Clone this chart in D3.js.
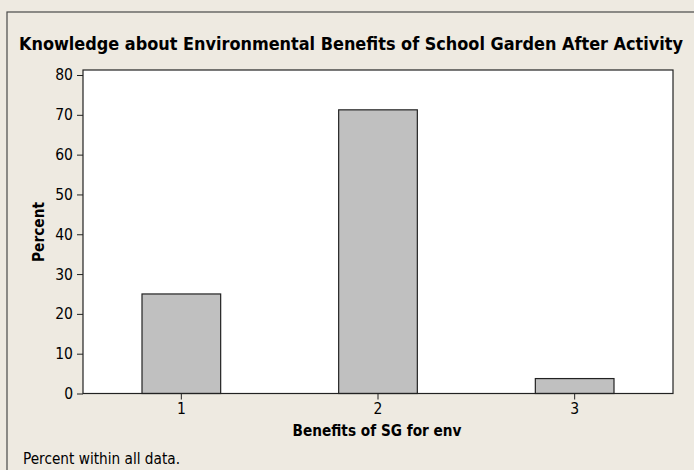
<!DOCTYPE html>
<html>
<head>
<meta charset="utf-8">
<script src="https://cdn.jsdelivr.net/npm/d3@7"></script>
<style>
  html, body { margin: 0; padding: 0; background: #EEEAE1; }
  svg { display: block; }
  text { font-family: "DejaVu Sans Condensed", "DejaVu Sans", sans-serif; fill: #000; }
</style>
</head>
<body>
<svg id="chart" width="694" height="470"></svg>
<script>
const categories = ["1", "2", "3"];
const percents = [25, 71.25, 3.75];
const yTicks = [0, 10, 20, 30, 40, 50, 60, 70, 80];
const titleText = "Knowledge about Environmental Benefits of School Garden After Activity";
const xLabel = "Benefits of SG for env";
const yLabel = "Percent";
const footnote = "Percent within all data.";

const svg = d3.select("#chart");
const W = 694, H = 470;
const plot = { left: 83, right: 673, top: 70, bottom: 393.5 };

// background + outer frame
svg.append("rect").attr("x", 0).attr("y", 0).attr("width", W).attr("height", H).attr("fill", "#EEEAE1");
svg.append("rect").attr("x", 7).attr("y", 12).attr("width", W + 20).attr("height", H + 20)
  .attr("fill", "#EEEAE1").attr("stroke", "#4a4a4a").attr("stroke-width", 1.2);

const x = d3.scaleBand().domain(categories).range([plot.left, plot.right])
  .paddingInner(0.6).paddingOuter(0.3);
const y = d3.scaleLinear().domain([0, 80]).range([plot.bottom, 75]);

// plot area
svg.append("rect").attr("x", plot.left).attr("y", plot.top)
  .attr("width", plot.right - plot.left).attr("height", plot.bottom - plot.top)
  .attr("fill", "#fff");

// bars
svg.append("g").selectAll("rect").data(categories).join("rect")
  .attr("x", d => x(d))
  .attr("y", (d, i) => y(percents[i]))
  .attr("width", x.bandwidth())
  .attr("height", (d, i) => y(0) - y(percents[i]))
  .attr("fill", "#C0C0C0").attr("stroke", "#222").attr("stroke-width", 1.2);

// frame
svg.append("rect").attr("x", plot.left).attr("y", plot.top)
  .attr("width", plot.right - plot.left).attr("height", plot.bottom - plot.top)
  .attr("fill", "none").attr("stroke", "#222").attr("stroke-width", 1.2);

// y axis
const yAxis = svg.append("g").attr("transform", `translate(${plot.left},0)`)
  .call(d3.axisLeft(y).tickValues(yTicks).tickSize(6).tickPadding(4).tickFormat(d3.format("d")));
yAxis.attr("font-size", null).attr("font-family", null);
yAxis.select(".domain").remove();
yAxis.selectAll(".tick line").attr("stroke", "#222");
yAxis.selectAll(".tick text").style("font-size", "15.5px");

// x axis
const xAxis = svg.append("g").attr("transform", `translate(0,${plot.bottom})`)
  .call(d3.axisBottom(x).tickSize(6).tickPadding(3));
xAxis.attr("font-size", null).attr("font-family", null);
xAxis.select(".domain").remove();
xAxis.selectAll(".tick line").attr("stroke", "#222");
xAxis.selectAll(".tick text").style("font-size", "15.5px");

// title
svg.append("text").attr("x", 351).attr("y", 50).attr("text-anchor", "middle")
  .style("font-size", "17px").style("font-weight", "bold")
  .attr("textLength", 664).attr("lengthAdjust", "spacingAndGlyphs")
  .text(titleText);

// x label
svg.append("text").attr("x", 377).attr("y", 436).attr("text-anchor", "middle")
  .style("font-size", "15.5px").style("font-weight", "bold")
  .attr("textLength", 169).attr("lengthAdjust", "spacingAndGlyphs")
  .text(xLabel);

// y label
svg.append("text").attr("transform", "translate(44,232) rotate(-90)").attr("text-anchor", "middle")
  .style("font-size", "15.5px").style("font-weight", "bold")
  .attr("textLength", 60).attr("lengthAdjust", "spacingAndGlyphs")
  .text(yLabel);

// footnote
svg.append("text").attr("x", 23).attr("y", 464)
  .style("font-size", "15.5px")
  .attr("textLength", 157).attr("lengthAdjust", "spacingAndGlyphs")
  .text(footnote);
</script>
</body>
</html>
